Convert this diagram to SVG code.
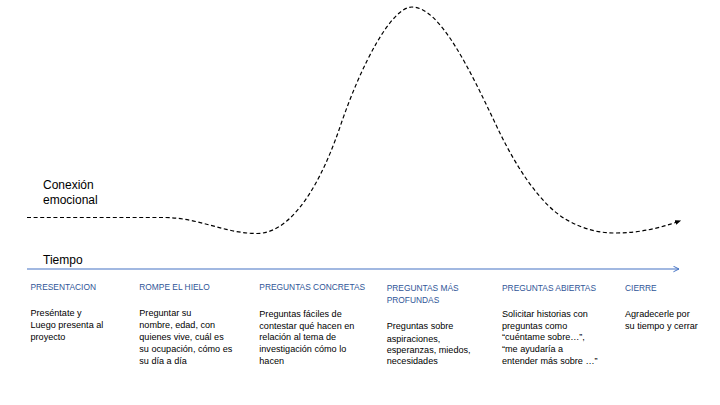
<svg xmlns="http://www.w3.org/2000/svg" width="720" height="405" viewBox="0 0 720 405">
  <defs>
    <style>
      .axis-label { font-family: "Liberation Sans", Arial, sans-serif; font-size: 12px; fill: #000; }
      .head { font-family: "Liberation Sans", Arial, sans-serif; font-size: 8.4px; fill: #2F5597; }
      .body { font-family: "Liberation Sans", Arial, sans-serif; font-size: 9.1px; fill: #000; }
      .curve { fill: none; stroke: #000; stroke-width: 1.2; stroke-dasharray: 4 2.6; }
      .time-axis { fill: none; stroke: #4472C4; stroke-width: 1.2; }
    </style>
    <marker id="tip-solid" viewBox="0 0 10 10" refX="8" refY="5" markerWidth="6" markerHeight="6" orient="auto" markerUnits="userSpaceOnUse">
      <path d="M0,1 L10,5 L0,9 Z" fill="#000"/>
    </marker>
    <marker id="tip-open" viewBox="0 0 10 10" refX="9" refY="5" markerWidth="7" markerHeight="7" orient="auto" markerUnits="userSpaceOnUse">
      <path d="M1,1 L9,5 L1,9" fill="none" stroke="#4472C4" stroke-width="1.4"/>
    </marker>
  </defs>

  <rect width="720" height="405" fill="#fff"/>

  <!-- axis labels -->
  <g id="label-conexion">
    <text class="axis-label" x="43" y="189">Conexión</text>
    <text class="axis-label" x="43" y="203.5">emocional</text>
  </g>
  <g id="label-tiempo">
    <text class="axis-label" x="43" y="264">Tiempo</text>
  </g>

  <!-- connectors: emotional curve and time axis -->
  <g id="connectors">
    <path class="curve" marker-end="url(#tip-solid)"
      d="M27,217.5 H165 C200,218 225,233.5 257,233.5 C285,233.5 315,200 340,127 C362,62 392,7 412,7 C440,7 470,70 497,127 C515,165 540,205 567,220 C585,230 600,233 615,233 C640,233 660,228 680,221"/>
    <path class="time-axis" marker-end="url(#tip-open)" d="M27,269 H679"/>
  </g>

  <!-- interview stages -->
  <g id="stage-presentacion">
    <text class="head" x="30.5" y="290">PRESENTACION</text>
    <text class="body" x="30.5" y="316">Preséntate y</text>
    <text class="body" x="30.5" y="328">Luego presenta al</text>
    <text class="body" x="30.5" y="339.5">proyecto</text>
  </g>

  <g id="stage-rompe-hielo">
    <text class="head" x="139.3" y="290">ROMPE EL HIELO</text>
    <text class="body" x="139.3" y="316">Preguntar su</text>
    <text class="body" x="139.3" y="328">nombre, edad, con</text>
    <text class="body" x="139.3" y="339.5">quienes vive, cuál es</text>
    <text class="body" x="139.3" y="352">su ocupación, cómo es</text>
    <text class="body" x="139.3" y="364">su día a día</text>
  </g>

  <g id="stage-concretas">
    <text class="head" x="259.3" y="289.5">PREGUNTAS CONCRETAS</text>
    <text class="body" x="259.3" y="316.5">Preguntas fáciles de</text>
    <text class="body" x="259.3" y="328.5">contestar qué hacen en</text>
    <text class="body" x="259.3" y="340">relación al tema de</text>
    <text class="body" x="259.3" y="352">investigación cómo lo</text>
    <text class="body" x="259.3" y="364">hacen</text>
  </g>

  <g id="stage-profundas">
    <text class="head" x="386.7" y="290.5">PREGUNTAS MÁS</text>
    <text class="head" x="386.7" y="303">PROFUNDAS</text>
    <text class="body" x="386.7" y="329">Preguntas sobre</text>
    <text class="body" x="386.7" y="341.5">aspiraciones,</text>
    <text class="body" x="386.7" y="352.5">esperanzas, miedos,</text>
    <text class="body" x="386.7" y="364">necesidades</text>
  </g>

  <g id="stage-abiertas">
    <text class="head" x="502" y="290.5">PREGUNTAS ABIERTAS</text>
    <text class="body" x="502" y="316.5">Solicitar historias con</text>
    <text class="body" x="502" y="328.5">preguntas como</text>
    <text class="body" x="502" y="340">“cuéntame sobre…”,</text>
    <text class="body" x="502" y="352">“me ayudaría a</text>
    <text class="body" x="502" y="364">entender más sobre …”</text>
  </g>

  <g id="stage-cierre">
    <text class="head" x="625" y="290.5">CIERRE</text>
    <text class="body" x="625" y="316.5">Agradecerle por</text>
    <text class="body" x="625" y="328.5">su tiempo y cerrar</text>
  </g>
</svg>
